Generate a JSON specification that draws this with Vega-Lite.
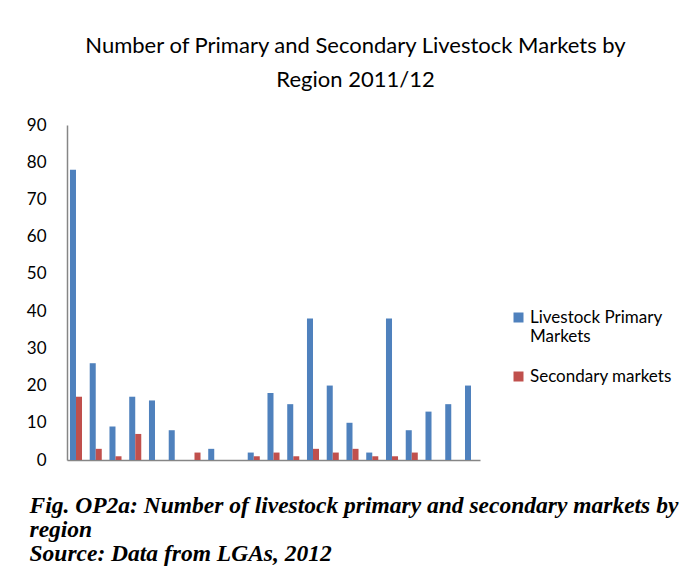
{
  "$schema": "https://vega.github.io/schema/vega-lite/v6.json",
  "width": 413,
  "height": 335,
  "autosize": "none",
  "padding": {"left": 67, "top": 125, "right": 214, "bottom": 114},
  "background": "white",
  "title": {
    "text": ["Number of Primary and Secondary Livestock Markets by", "Region 2011/12"],
    "font": "Lato",
    "fontSize": 22,
    "fontWeight": "normal",
    "color": "#000000",
    "anchor": "middle",
    "dx": 82,
    "offset": 24,
    "lineHeight": 34
  },
  "data": {
    "values": [
      {"region": 1, "series": "Livestock Primary Markets", "count": 78},
      {"region": 1, "series": "Secondary markets", "count": 17},
      {"region": 2, "series": "Livestock Primary Markets", "count": 26},
      {"region": 2, "series": "Secondary markets", "count": 3},
      {"region": 3, "series": "Livestock Primary Markets", "count": 9},
      {"region": 3, "series": "Secondary markets", "count": 1},
      {"region": 4, "series": "Livestock Primary Markets", "count": 17},
      {"region": 4, "series": "Secondary markets", "count": 7},
      {"region": 5, "series": "Livestock Primary Markets", "count": 16},
      {"region": 5, "series": "Secondary markets", "count": 0},
      {"region": 6, "series": "Livestock Primary Markets", "count": 8},
      {"region": 6, "series": "Secondary markets", "count": 0},
      {"region": 7, "series": "Livestock Primary Markets", "count": 0},
      {"region": 7, "series": "Secondary markets", "count": 2},
      {"region": 8, "series": "Livestock Primary Markets", "count": 3},
      {"region": 8, "series": "Secondary markets", "count": 0},
      {"region": 9, "series": "Livestock Primary Markets", "count": 0},
      {"region": 9, "series": "Secondary markets", "count": 0},
      {"region": 10, "series": "Livestock Primary Markets", "count": 2},
      {"region": 10, "series": "Secondary markets", "count": 1},
      {"region": 11, "series": "Livestock Primary Markets", "count": 18},
      {"region": 11, "series": "Secondary markets", "count": 2},
      {"region": 12, "series": "Livestock Primary Markets", "count": 15},
      {"region": 12, "series": "Secondary markets", "count": 1},
      {"region": 13, "series": "Livestock Primary Markets", "count": 38},
      {"region": 13, "series": "Secondary markets", "count": 3},
      {"region": 14, "series": "Livestock Primary Markets", "count": 20},
      {"region": 14, "series": "Secondary markets", "count": 2},
      {"region": 15, "series": "Livestock Primary Markets", "count": 10},
      {"region": 15, "series": "Secondary markets", "count": 3},
      {"region": 16, "series": "Livestock Primary Markets", "count": 2},
      {"region": 16, "series": "Secondary markets", "count": 1},
      {"region": 17, "series": "Livestock Primary Markets", "count": 38},
      {"region": 17, "series": "Secondary markets", "count": 1},
      {"region": 18, "series": "Livestock Primary Markets", "count": 8},
      {"region": 18, "series": "Secondary markets", "count": 2},
      {"region": 19, "series": "Livestock Primary Markets", "count": 13},
      {"region": 19, "series": "Secondary markets", "count": 0},
      {"region": 20, "series": "Livestock Primary Markets", "count": 15},
      {"region": 20, "series": "Secondary markets", "count": 0},
      {"region": 21, "series": "Livestock Primary Markets", "count": 20},
      {"region": 21, "series": "Secondary markets", "count": 0}
    ]
  },
  "mark": {"type": "bar"},
  "encoding": {
    "x": {
      "field": "region",
      "type": "ordinal",
      "scale": {"paddingInner": 0.39, "paddingOuter": 0.15},
      "axis": {
        "labels": false,
        "ticks": false,
        "domainColor": "#868686",
        "domainWidth": 1.5,
        "title": ["Fig. OP2a: Number of livestock primary and secondary markets by", "region", "Source: Data from LGAs, 2012"],
        "titleFont": "Liberation Serif",
        "titleFontStyle": "italic",
        "titleFontWeight": "bold",
        "titleFontSize": 23.5,
        "titleColor": "#000000",
        "titleAnchor": "start",
        "titleAlign": "left",
        "titleBaseline": "alphabetic",
        "titleX": -38,
        "titleY": 52,
        "titleLineHeight": 24
      }
    },
    "xOffset": {"field": "series", "type": "nominal", "scale": {"paddingInner": 0, "paddingOuter": 0}},
    "y": {
      "field": "count",
      "type": "quantitative",
      "scale": {"domain": [0, 90]},
      "axis": {
        "values": [0, 10, 20, 30, 40, 50, 60, 70, 80, 90],
        "grid": false,
        "ticks": false,
        "title": null,
        "domainColor": "#868686",
        "domainWidth": 1.5,
        "labelFont": "Lato",
        "labelFontSize": 17,
        "labelColor": "#000000",
        "labelPadding": 21
      }
    },
    "color": {
      "field": "series",
      "type": "nominal",
      "scale": {"domain": ["Livestock Primary Markets", "Secondary markets"], "range": ["#4F81BD", "#C0504D"]},
      "legend": {
        "title": null,
        "orient": "none",
        "legendX": 443,
        "legendY": 184,
        "symbolType": "square",
        "symbolSize": 100,
        "symbolStrokeWidth": 0,
        "symbolOffset": 0,
        "labelOffset": 3,
        "labelFont": "Lato",
        "labelFontSize": 17,
        "labelColor": "#000000",
        "labelLimit": 200,
        "rowPadding": 22,
        "labelExpr": "datum.label == 'Livestock Primary Markets' ? ['Livestock Primary', 'Markets'] : datum.label"
      }
    }
  },
  "config": {"view": {"stroke": null}}
}
